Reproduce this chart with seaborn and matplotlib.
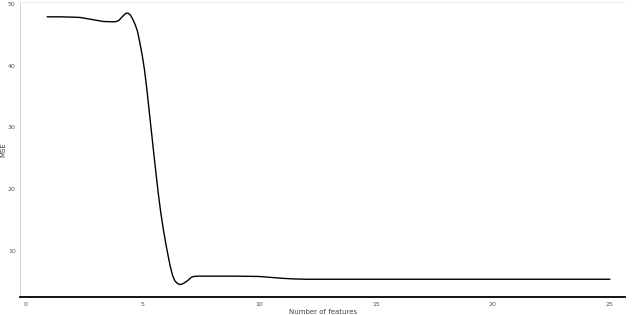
import numpy as np
import pandas as pd
import seaborn as sns
import matplotlib.pyplot as plt

# Values
n_features = [0.94, 1.5, 2.0, 2.35, 2.8, 3.33, 3.7, 3.85, 4.0, 4.1, 4.2, 4.3,
              4.4, 4.5, 4.6, 4.7, 4.8, 4.9, 5.0, 5.1, 5.2, 5.3, 5.4, 5.5, 5.6,
              5.7, 5.8, 5.9, 6.0, 6.1, 6.2, 6.3, 6.4, 6.5, 6.6, 6.7, 6.8, 6.9,
              7.0, 7.1, 7.2, 7.4, 8.0, 9.0, 10.0, 10.5, 11.0, 11.5, 12.0, 15.0,
              20.0, 25.0]
mse = [47.9, 47.9, 47.85, 47.8, 47.5, 47.15, 47.1, 47.1, 47.3, 47.7, 48.1, 48.45,
       48.5, 48.2, 47.5, 46.7, 45.6, 43.8, 41.8, 39.4, 36.3, 32.8, 29.3, 25.8, 22.4,
       19.1, 16.2, 13.7, 11.5, 9.5, 7.6, 6.1, 5.2, 4.8, 4.6, 4.65, 4.85, 5.1,
       5.4, 5.75, 5.9, 5.95, 5.95, 5.95, 5.9, 5.75, 5.6, 5.5, 5.45, 5.45,
       5.45, 5.45]
x_ticks = [0, 5, 10, 15, 20, 25]
y_ticks = [10, 20, 30, 40, 50]

df = pd.DataFrame({"Number of features": n_features, "MSE": mse})

sns.set_style("white")
fig = plt.figure(figsize=(6.4, 3.15), dpi=100)
ax = fig.add_axes([0.032, 0.0556, 0.9446, 0.9381])

sns.lineplot(data=df, x="Number of features", y="MSE", color="black",
             linewidth=1.0, ax=ax)

ax.set_xlim(-0.2, 25.65)
ax.set_ylim(2.5, 50.3)
ax.set_xticks(x_ticks)
ax.set_yticks(y_ticks)
ax.tick_params(axis="both", labelsize=4.5, colors="#555555", length=2, width=0.5, pad=1.5)
ax.set_xlabel("Number of features", fontsize=5, color="#444444", labelpad=1)
ax.set_ylabel("MSE", fontsize=5, color="#444444")
ax.yaxis.set_label_coords(-0.024, 0.5)

ax.spines["right"].set_visible(False)
ax.spines["top"].set_color("#eeeeee")
ax.spines["left"].set_color("#cccccc")
ax.spines["left"].set_linewidth(0.6)
ax.spines["bottom"].set_color("black")
ax.spines["bottom"].set_linewidth(1.3)

plt.savefig("out.png", dpi=100)
plt.close()
